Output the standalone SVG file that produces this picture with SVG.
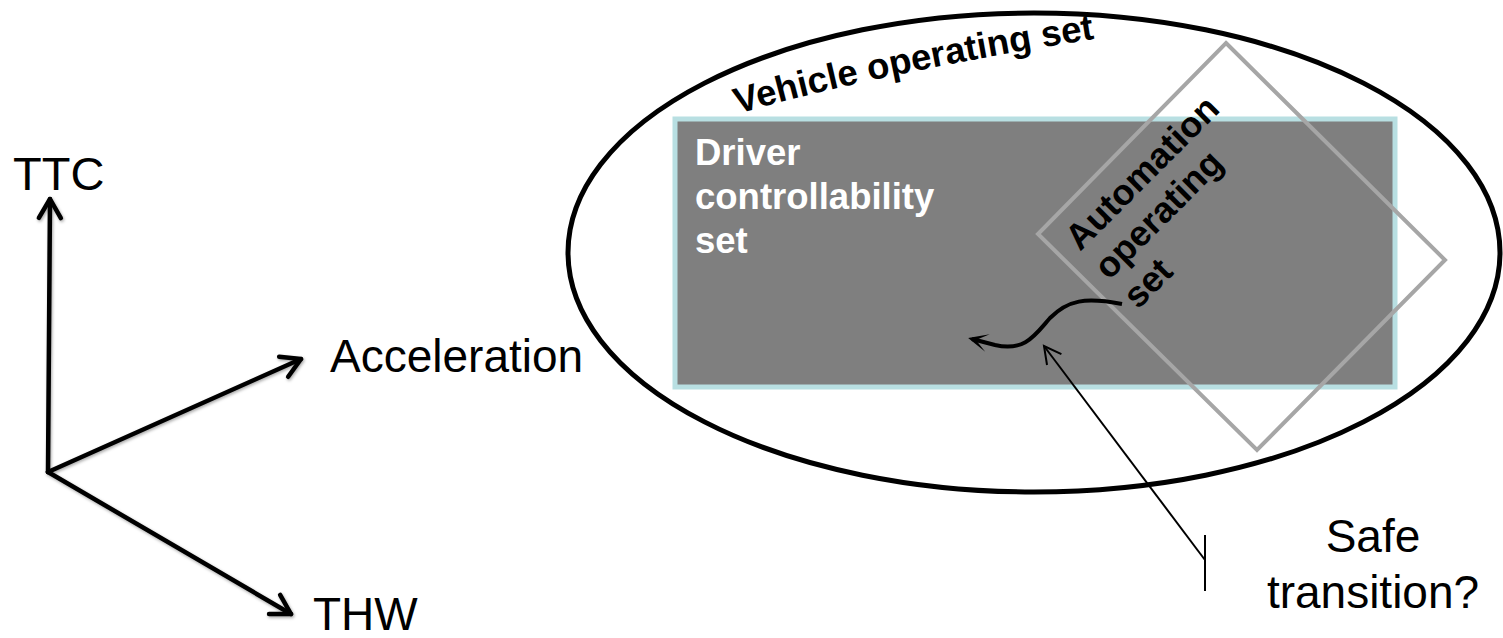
<svg xmlns="http://www.w3.org/2000/svg" width="1503" height="638" viewBox="0 0 1503 638">
<style>
.lbl{font-family:"Liberation Sans",Arial,sans-serif;font-size:46px;fill:#000}
.bold{font-family:"Liberation Sans",Arial,sans-serif;font-weight:bold;font-size:36.5px}
.axis{stroke:#000;stroke-width:4.5;fill:none;stroke-linecap:round}
</style>
<defs>
<filter id="sh" x="-10%" y="-10%" width="120%" height="120%">
<feDropShadow dx="1" dy="1.5" stdDeviation="1.5" flood-color="#000" flood-opacity="0.35"/>
</filter>
<marker id="open" markerUnits="userSpaceOnUse" viewBox="-25 -15 30 30" markerWidth="30" markerHeight="30" refX="0" refY="0" orient="auto" overflow="visible">
<path d="M-19,-11 L0,0 L-19,11" fill="none" stroke="#000" stroke-width="4.5" stroke-linecap="round" stroke-linejoin="round"/>
</marker>
<marker id="thin" markerUnits="userSpaceOnUse" viewBox="-20 -12 24 24" markerWidth="24" markerHeight="24" refX="0" refY="0" orient="auto" overflow="visible">
<path d="M-17,-9 L0,0 L-17,9" fill="none" stroke="#000" stroke-width="2"/>
</marker>
<marker id="solid" markerUnits="userSpaceOnUse" viewBox="-20 -12 24 24" markerWidth="24" markerHeight="24" refX="0" refY="0" orient="auto" overflow="visible">
<path d="M-4,0 L-16,-9 L4,0 L-16,9 Z" fill="#000"/>
</marker>
</defs>

<g id="vehicle-set">
<ellipse cx="1034" cy="252.5" rx="466" ry="239.5" fill="#fff" stroke="#000" stroke-width="5"/>
<path id="vpath" d="M738,114 Q880,72 1125,34" fill="none"/>
<text class="bold" fill="#000" style="font-size:36.5px"><textPath href="#vpath">Vehicle operating set</textPath></text>
</g>

<g id="driver-set">
<rect x="675" y="119" width="720" height="268" fill="#7f7f7f" stroke="#b8dfe2" stroke-width="5"/>
<text class="bold" fill="#fff"><tspan x="695" y="165">Driver</tspan><tspan x="695" y="209">controllability</tspan><tspan x="695" y="253">set</tspan></text>
</g>

<g id="automation-set">
<polygon points="1226,43 1445,260 1257,450 1038,234" fill="none" stroke="#a6a6a6" stroke-width="4"/>
<text class="bold" fill="#000" style="font-size:36px" transform="translate(1080,252) rotate(-45)"><tspan x="0" y="0">Automation</tspan><tspan x="0" y="41">operating</tspan><tspan x="0" y="82">set</tspan></text>
</g>

<g id="axes" filter="url(#sh)">
<line class="axis" x1="48" y1="472" x2="50" y2="199" marker-end="url(#open)"/>
<line class="axis" x1="48" y1="472" x2="301" y2="359" marker-end="url(#open)"/>
<line class="axis" x1="48" y1="472" x2="291" y2="614" marker-end="url(#open)"/>
</g>

<g id="labels">
<text class="lbl" x="13" y="190" style="font-size:47px">TTC</text>
<text class="lbl" x="330" y="372">Acceleration</text>
<text class="lbl" x="313" y="630">THW</text>
<text class="lbl" text-anchor="middle"><tspan x="1373" y="552">Safe</tspan><tspan x="1373" y="608">transition?</tspan></text>
</g>

<g id="connectors">
<path d="M1122,304 C1085,297 1068,300 1050,318 C1035,335 1025,352 995,345 L972,339" fill="none" stroke="#000" stroke-width="4" marker-end="url(#solid)"/>
<line x1="1205" y1="560" x2="1044" y2="346" stroke="#000" stroke-width="2" marker-end="url(#thin)"/>
<line x1="1205" y1="535" x2="1205" y2="591" stroke="#000" stroke-width="2"/>
</g>
</svg>
